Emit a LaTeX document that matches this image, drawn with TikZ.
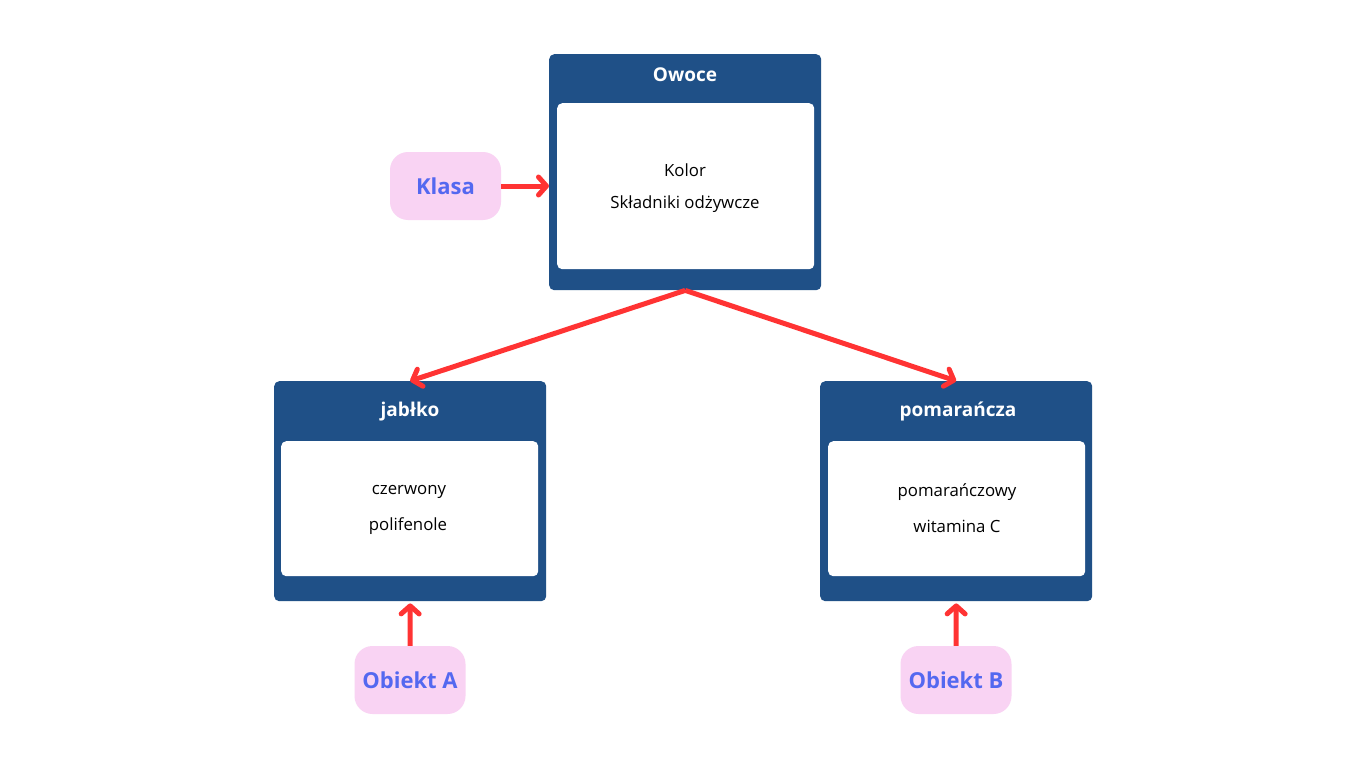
\documentclass[tikz,border=0pt]{standalone}
\usepackage{fontspec}
\setmainfont{Open Sans}
\usetikzlibrary{arrows.meta}
\definecolor{boxblue}{HTML}{1F5087}
\definecolor{pinkfill}{HTML}{F9D3F3}
\definecolor{pilltext}{HTML}{5468F0}
\definecolor{arrowred}{HTML}{FF3333}
\begin{document}
\begin{tikzpicture}[x=1pt,y=-1pt,
  outerbox/.style={fill=boxblue, rounded corners=5pt, minimum width=272pt, anchor=north west, inner sep=0pt},
  innerbox/.style={fill=white, rounded corners=5pt, minimum width=257pt, anchor=north west, inner sep=0pt},
  titletext/.style={text=white, font=\fontsize{19}{22}\selectfont\bfseries},
  bodytext/.style={text=black, font=\fontsize{16.8}{20}\selectfont},
  pill/.style={fill=pinkfill, rounded corners=18pt, minimum width=111pt, minimum height=68pt, text=pilltext, font=\fontsize{22}{26}\selectfont\bfseries, inner sep=0pt},
  conn/.style={draw=arrowred, line width=5pt, -{Straight Barb[length=8pt,width=18pt,line cap=round,line join=round]}}
]
\useasboundingbox[fill=white] (0,0) rectangle (1366,768);

% top class box
\node[outerbox, minimum height=236pt] (owoce) at (549,54) {};
\node[innerbox, minimum height=166pt] (owoceIn) at (557,103) {};
\node[titletext] (owoceT) at (685,75) {Owoce};
\node[bodytext] (owoceA) at (685,170) {Kolor};
\node[bodytext] (owoceB) at (685,204) {Składniki odżywcze};

% left object box
\node[outerbox, minimum height=220pt] (jablko) at (274,381) {};
\node[innerbox, minimum height=135pt] (jablkoIn) at (281,441) {};
\node[titletext] (jablkoT) at (410,412) {jabłko};
\node[bodytext] (jablkoA) at (409,492) {czerwony};
\node[bodytext] (jablkoB) at (408,526) {polifenole};

% right object box
\node[outerbox, minimum height=220pt] (pomar) at (820,381) {};
\node[innerbox, minimum height=135pt] (pomarIn) at (828,441) {};
\node[titletext] (pomarT) at (958,412) {pomarańcza};
\node[bodytext] (pomarA) at (957,492) {pomarańczowy};
\node[bodytext] (pomarB) at (957,526) {witamina C};

% labels
\node[pill] (klasa) at (445.5,186) {Klasa};
\node[pill] (objA) at (410,680) {Obiekt A};
\node[pill] (objB) at (956,680) {Obiekt B};

% connectors
\draw[conn] (klasa.east) -- (klasa.east -| owoce.west);
\draw[conn] (owoce.south) -- (jablko.north);
\draw[conn] (owoce.south) -- (pomar.north);
\draw[conn, shorten >=2pt] (objA.north) -- (jablko.south);
\draw[conn, shorten >=2pt] (objB.north) -- (pomar.south);
\end{tikzpicture}
\end{document}
